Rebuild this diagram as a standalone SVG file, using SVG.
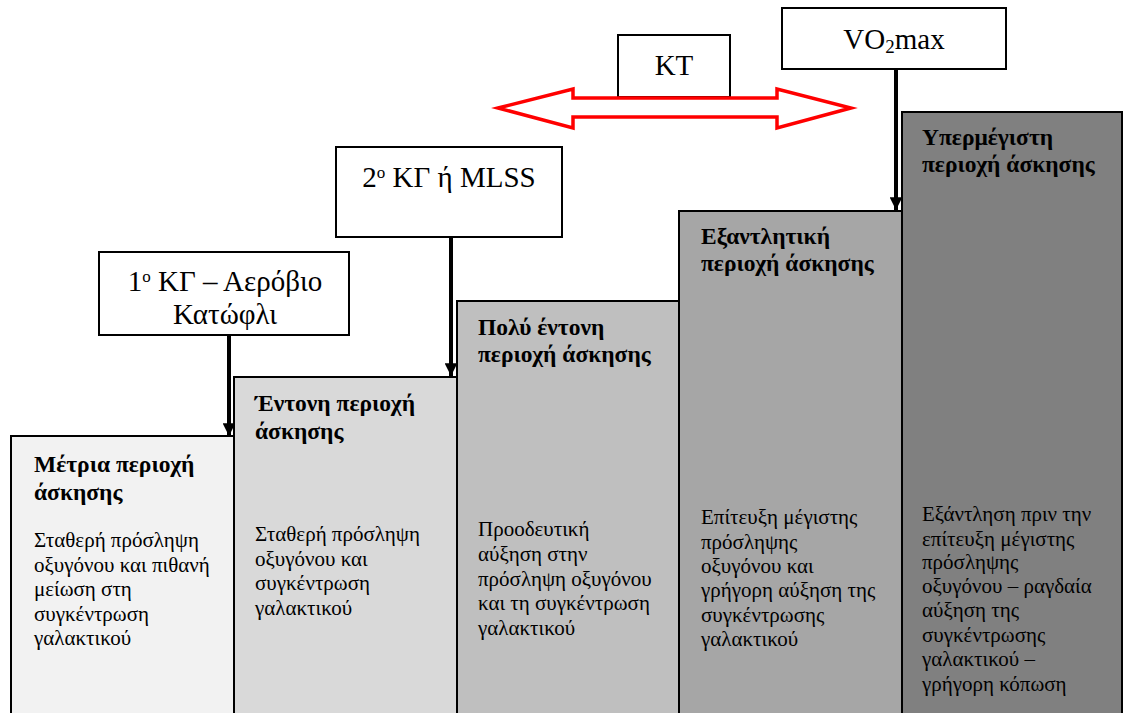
<svg xmlns="http://www.w3.org/2000/svg" width="1125" height="713" viewBox="0 0 1125 713" font-family="'Liberation Serif', 'Times New Roman', serif">
<defs>
<style>
.zone{stroke:#000;stroke-width:2}
.lbl{fill:#fff;stroke:#000;stroke-width:2}
.title{font-size:23.5px;font-weight:bold}
.body{font-size:21px}
.big{font-size:29px}
.conn{stroke:#000;stroke-width:4;fill:none}
</style>
<marker id="ah" viewBox="0 0 10 10" refX="10" refY="5" markerWidth="3.4" markerHeight="3.2" markerUnits="strokeWidth" orient="auto">
<path d="M0,0 L10,5 L0,10 z" fill="#000"/>
</marker>
</defs>
<rect width="1125" height="713" fill="#fff"/>

<g id="zone1">
<rect class="zone" x="11" y="436" width="223" height="290" fill="#f2f2f2"/>
<text class="title"><tspan x="34" y="472">Μέτρια περιοχή</tspan><tspan x="34" y="500">άσκησης</tspan></text>
<text class="body"><tspan x="34" y="547">Σταθερή πρόσληψη</tspan><tspan x="34" y="571.5">οξυγόνου και πιθανή</tspan><tspan x="34" y="596">μείωση στη</tspan><tspan x="34" y="620.5">συγκέντρωση</tspan><tspan x="34" y="645">γαλακτικού</tspan></text>
</g>

<g id="zone2">
<rect class="zone" x="234" y="377" width="223" height="350" fill="#d9d9d9"/>
<text class="title"><tspan x="255" y="411">Έντονη περιοχή</tspan><tspan x="255" y="439">άσκησης</tspan></text>
<text class="body"><tspan x="255" y="541">Σταθερή πρόσληψη</tspan><tspan x="255" y="565.5">οξυγόνου και</tspan><tspan x="255" y="590">συγκέντρωση</tspan><tspan x="255" y="614.5">γαλακτικού</tspan></text>
</g>

<g id="zone3">
<rect class="zone" x="457" y="301" width="222" height="430" fill="#bfbfbf"/>
<text class="title"><tspan x="478" y="335">Πολύ έντονη</tspan><tspan x="478" y="362">περιοχή άσκησης</tspan></text>
<text class="body"><tspan x="478" y="536">Προοδευτική</tspan><tspan x="478" y="561">αύξηση στην</tspan><tspan x="478" y="586">πρόσληψη οξυγόνου</tspan><tspan x="478" y="610">και τη συγκέντρωση</tspan><tspan x="478" y="635">γαλακτικού</tspan></text>
</g>

<g id="zone4">
<rect class="zone" x="679" y="211" width="223" height="520" fill="#a6a6a6"/>
<text class="title"><tspan x="701" y="244">Εξαντλητική</tspan><tspan x="701" y="271">περιοχή άσκησης</tspan></text>
<text class="body"><tspan x="701" y="524">Επίτευξη μέγιστης</tspan><tspan x="701" y="549">πρόσληψης</tspan><tspan x="701" y="573">οξυγόνου και</tspan><tspan x="701" y="597">γρήγορη αύξηση της</tspan><tspan x="701" y="622">συγκέντρωσης</tspan><tspan x="701" y="646">γαλακτικού</tspan></text>
</g>

<g id="zone5">
<rect class="zone" x="902" y="112" width="220" height="620" fill="#808080"/>
<text class="title"><tspan x="922" y="145">Υπερμέγιστη</tspan><tspan x="922" y="172">περιοχή άσκησης</tspan></text>
<text class="body"><tspan x="922" y="521">Εξάντληση πριν την</tspan><tspan x="922" y="546">επίτευξη μέγιστης</tspan><tspan x="922" y="569">πρόσληψης</tspan><tspan x="922" y="593">οξυγόνου – ραγδαία</tspan><tspan x="922" y="617">αύξηση της</tspan><tspan x="922" y="642">συγκέντρωσης</tspan><tspan x="922" y="666">γαλακτικού –</tspan><tspan x="922" y="691">γρήγορη κόπωση</tspan></text>
</g>

<g id="kg1">
<rect class="lbl" x="99" y="252" width="250" height="83"/>
<text class="big" text-anchor="middle"><tspan x="225" y="291">1<tspan baseline-shift="super" font-size="17">o</tspan> ΚΓ – Αερόβιο</tspan><tspan x="225" y="324">Κατώφλι</tspan></text>
</g>

<g id="kg2">
<rect class="lbl" x="336" y="147" width="226" height="90"/>
<text class="big" x="449" y="187" text-anchor="middle">2<tspan baseline-shift="super" font-size="17">o</tspan> ΚΓ ή MLSS</text>
</g>

<g id="kt">
<rect class="lbl" x="618" y="35" width="112" height="62"/>
<text class="big" x="674" y="75" text-anchor="middle" font-size="28">KT</text>
</g>

<g id="vo2max">
<rect class="lbl" x="782" y="8" width="224" height="61"/>
<text class="big" x="894" y="49" text-anchor="middle">VO<tspan baseline-shift="-4" font-size="19">2</tspan>max</text>
</g>

<g id="connectors">
<line class="conn" x1="229" y1="335" x2="229" y2="436" marker-end="url(#ah)"/>
<line class="conn" x1="451" y1="237" x2="451" y2="376" marker-end="url(#ah)"/>
<line class="conn" x1="896" y1="69" x2="896" y2="210" marker-end="url(#ah)"/>
<polygon points="498,108 573,89 573,98 777,98 777,89 851,108 777,128 777,117 573,117 573,128" fill="#fff" stroke="#ff0000" stroke-width="3.5"/>
</g>
</svg>
